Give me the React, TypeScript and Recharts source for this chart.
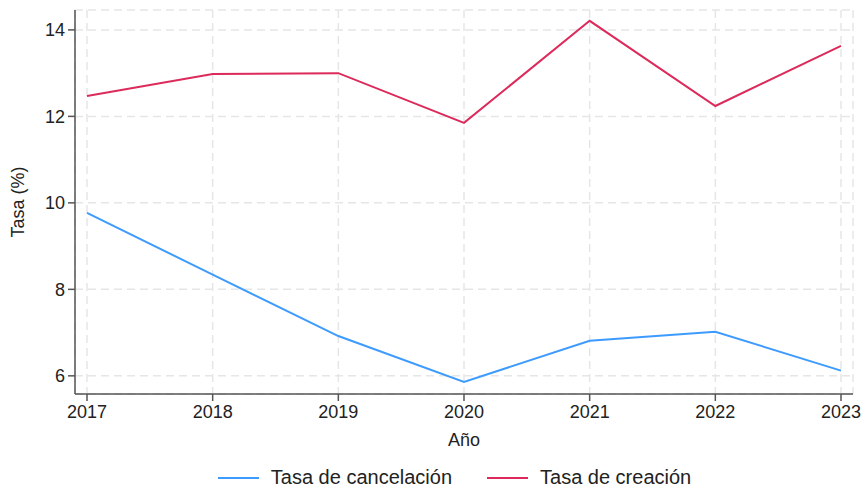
import { LineChart, Line, XAxis, YAxis, CartesianGrid, Legend } from 'recharts';

const years = ['2017', '2018', '2019', '2020', '2021', '2022', '2023'];
const cancelacion = [9.77, 8.34, 6.92, 5.86, 6.81, 7.02, 6.12];
const creacion = [12.47, 12.98, 13.0, 11.85, 14.21, 12.24, 13.63];
const yTicks = [6, 8, 10, 12, 14];

const SERIES = [
  { key: 'cancelacion', name: 'Tasa de cancelación', color: '#3d9bff' },
  { key: 'creacion', name: 'Tasa de creación', color: '#dc2a5a' },
];

const FONT = '"Liberation Sans", Arial, sans-serif';

function LineLegend() {
  return (
    <div style={{ display: 'flex', justifyContent: 'center', alignItems: 'center', gap: 35, fontFamily: FONT, fontSize: 20, color: '#222', paddingLeft: 56, paddingTop: 12 }}>
      {SERIES.map(s => (
        <div key={s.key} style={{ display: 'flex', alignItems: 'center', gap: 12 }}>
          <span style={{ width: 41, height: 2, background: s.color, display: 'inline-block' }} />
          <span>{s.name}</span>
        </div>
      ))}
    </div>
  );
}

export default function App() {
  const data = years.map((y, i) => ({ year: y, cancelacion: cancelacion[i], creacion: creacion[i] }));
  const tick = { fontSize: 18, fill: '#222', fontFamily: FONT };

  return (
    <div style={{ position: 'absolute', left: 0, top: 0, background: 'white' }}>
      <LineChart width={864} height={489} data={data} margin={{ top: 10, right: 11, left: 0, bottom: 0 }}>
        <CartesianGrid stroke="#e6e6e6" strokeDasharray="8 5" strokeWidth={1.5} />
        <XAxis
          dataKey="year"
          padding={{ left: 12, right: 12 }}
          height={60}
          tick={tick}
          tickSize={7}
          tickMargin={4}
          stroke="#555"
          strokeWidth={1.5}
          label={{ value: 'Año', position: 'insideBottom', offset: 8, fontSize: 18, fill: '#222', fontFamily: FONT }}
        />
        <YAxis
          domain={[5.58, 14.46]}
          ticks={yTicks}
          allowDataOverflow
          width={75}
          tick={tick}
          tickSize={7}
          tickMargin={3}
          stroke="#555"
          strokeWidth={1.5}
          label={{ value: 'Tasa (%)', angle: -90, position: 'insideLeft', offset: 18, fontSize: 18, fill: '#222', fontFamily: FONT, style: { textAnchor: 'middle' } }}
        />
        <Legend verticalAlign="bottom" height={35} content={<LineLegend />} />
        {SERIES.map(s => (
          <Line
            key={s.key}
            type="linear"
            dataKey={s.key}
            name={s.name}
            stroke={s.color}
            strokeWidth={2}
            dot={false}
            isAnimationActive={false}
          />
        ))}
      </LineChart>
    </div>
  );
}
